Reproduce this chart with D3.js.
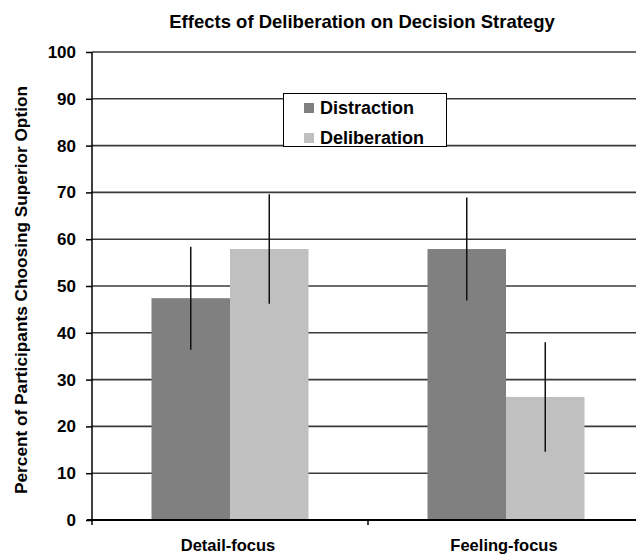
<!DOCTYPE html>
<html><head><meta charset="utf-8">
<script src="https://cdn.jsdelivr.net/npm/d3@7"></script>
<style>body{margin:0;background:#fff;} svg{display:block;font-family:"Liberation Sans",Arial,sans-serif;}</style>
</head><body>
<script>
const categories = ["Detail-focus", "Feeling-focus"];
const seriesNames = ["Distraction", "Deliberation"];
const distraction = [47.4, 57.9];
const deliberation = [57.9, 26.3];
const distractionErr = [11.0, 11.0];
const deliberationErr = [11.7, 11.7];
const yTicks = [0, 10, 20, 30, 40, 50, 60, 70, 80, 90, 100];
const colors = ["#808080", "#c0c0c0"];

const W = 636, H = 554;
const svg = d3.select("body").append("svg").attr("width", W).attr("height", H);

const x0 = d3.scaleBand().domain(categories).range([92, 644]).paddingInner(0).paddingOuter(0);
const x1 = d3.scaleBand().domain(seriesNames).range([0, x0.bandwidth()]).paddingOuter(0.758).paddingInner(0);
const y = d3.scaleLinear().domain([0, 100]).range([520, 52]);

// gridlines
svg.append("g").selectAll("line").data(yTicks.filter(d => d > 0)).join("line")
  .attr("x1", 92).attr("x2", 644).attr("y1", d => y(d)).attr("y2", d => y(d))
  .attr("stroke", "#3a3a3a").attr("stroke-width", 1.6);

const rows = categories.map((c, i) => ({cat: c, vals: [
  {s: seriesNames[0], v: distraction[i], e: distractionErr[i]},
  {s: seriesNames[1], v: deliberation[i], e: deliberationErr[i]}]}));

const g = svg.append("g").selectAll("g").data(rows).join("g")
  .attr("transform", d => `translate(${x0(d.cat)},0)`);
g.selectAll("rect").data(d => d.vals).join("rect")
  .attr("x", d => x1(d.s)).attr("width", x1.bandwidth())
  .attr("y", d => y(d.v)).attr("height", d => y(0) - y(d.v))
  .attr("fill", (d, i) => colors[i]);
g.selectAll("line.err").data(d => d.vals).join("line").attr("class", "err")
  .attr("x1", d => x1(d.s) + x1.bandwidth() / 2).attr("x2", d => x1(d.s) + x1.bandwidth() / 2)
  .attr("y1", d => y(d.v + d.e)).attr("y2", d => y(d.v - d.e))
  .attr("stroke", "#111").attr("stroke-width", 1.5);

// y axis
const yAxis = svg.append("g").attr("transform", "translate(92,0)")
  .call(d3.axisLeft(y).tickValues(yTicks).tickSize(6).tickPadding(10));
yAxis.select(".domain").attr("stroke", "#000").attr("stroke-width", 1.5).attr("d", "M0,52V520");
yAxis.selectAll(".tick line").attr("stroke", "#000").attr("stroke-width", 1.5);
yAxis.selectAll("text").attr("font-size", 17).attr("font-weight", "bold").attr("fill", "#000")
  .attr("font-family", "Liberation Sans, Arial, sans-serif");

// x axis
const xAxis = svg.append("g").attr("transform", "translate(0,520)");
xAxis.append("line").attr("x1", 87).attr("x2", 644).attr("y1", 0).attr("y2", 0)
  .attr("stroke", "#000").attr("stroke-width", 2);
xAxis.selectAll("line.t").data([92, x0(categories[1])]).join("line").attr("class", "t")
  .attr("x1", d => d).attr("x2", d => d).attr("y1", 0).attr("y2", 5)
  .attr("stroke", "#000").attr("stroke-width", 1.5);
xAxis.selectAll("text").data(categories).join("text")
  .attr("x", d => x0(d) + x0.bandwidth() / 2 - 2).attr("y", 31)
  .attr("text-anchor", "middle").attr("font-size", 16.5).attr("font-weight", "bold").text(d => d);

// title
svg.append("text").attr("x", 362).attr("y", 28).attr("text-anchor", "middle")
  .attr("font-size", 18.5).attr("font-weight", "bold").text("Effects of Deliberation on Decision Strategy");

// y title
svg.append("text").attr("transform", "translate(27,290) rotate(-90)").attr("text-anchor", "middle")
  .attr("font-size", 16.5).attr("font-weight", "bold")
  .attr("textLength", 408).attr("lengthAdjust", "spacingAndGlyphs")
  .text("Percent of Participants Choosing Superior Option");

// legend
const lg = svg.append("g");
lg.append("rect").attr("x", 283.5).attr("y", 93.5).attr("width", 163).attr("height", 53)
  .attr("fill", "#fff").attr("stroke", "#000").attr("stroke-width", 1);
seriesNames.forEach((s, i) => {
  lg.append("rect").attr("x", 304).attr("y", 103 + i * 30).attr("width", 10).attr("height", 10).attr("fill", colors[i]);
  lg.append("text").attr("x", 320).attr("y", 113.5 + i * 30).attr("font-size", 18).attr("font-weight", "bold").text(s);
});
</script>
</body></html>
